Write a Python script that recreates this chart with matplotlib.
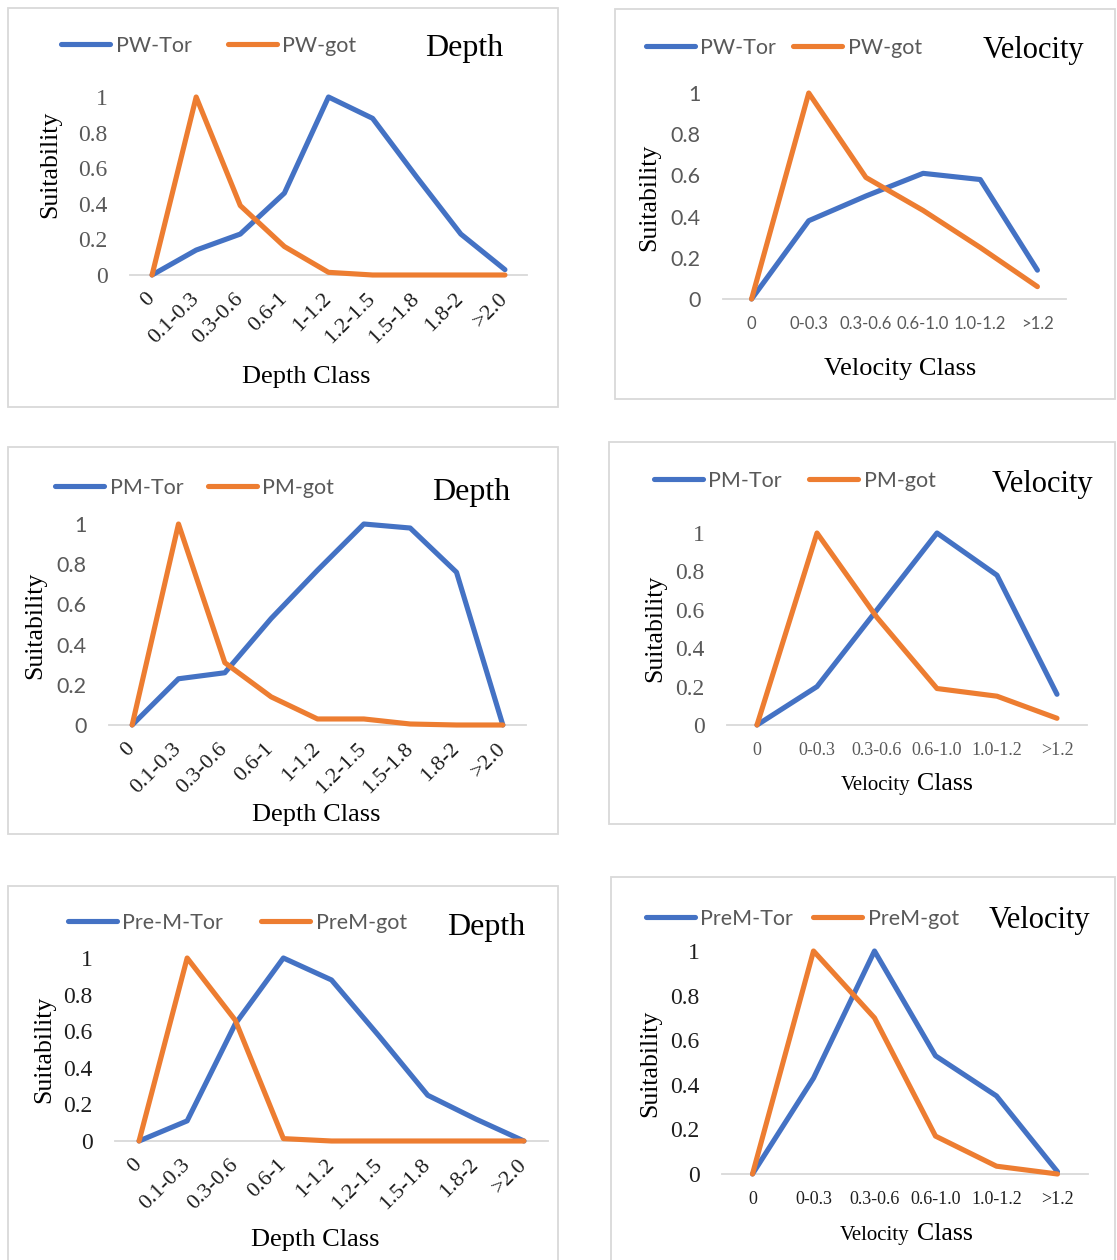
import matplotlib
matplotlib.use("Agg")
import matplotlib.pyplot as plt
from matplotlib.patches import Rectangle
from matplotlib.legend import Legend

# ---- data -------------------------------------------------------------
depth_classes = ['0', '0.1-0.3', '0.3-0.6', '0.6-1', '1-1.2', '1.2-1.5',
                 '1.5-1.8', '1.8-2', '>2.0']
velocity_classes = ['0', '0-0.3', '0.3-0.6', '0.6-1.0', '1.0-1.2', '>1.2']
y_ticks = [0, 0.2, 0.4, 0.6, 0.8, 1]
y_tick_labels = ['0', '0.2', '0.4', '0.6', '0.8', '1']

pw_tor_depth = [0, 0.14, 0.23, 0.46, 1.0, 0.88, 0.55, 0.23, 0.03]
pw_got_depth = [0, 1.0, 0.39, 0.16, 0.015, 0, 0, 0, 0]
pw_tor_vel = [0, 0.38, 0.50, 0.61, 0.58, 0.14]
pw_got_vel = [0, 1.0, 0.59, 0.43, 0.25, 0.06]

pm_tor_depth = [0, 0.23, 0.26, 0.53, 0.77, 1.0, 0.98, 0.76, 0]
pm_got_depth = [0, 1.0, 0.31, 0.14, 0.03, 0.03, 0.005, 0, 0]
pm_tor_vel = [0, 0.20, 0.60, 1.0, 0.78, 0.16]
pm_got_vel = [0, 1.0, 0.56, 0.19, 0.15, 0.035]

prem_tor_depth = [0, 0.11, 0.64, 1.0, 0.88, 0.57, 0.25, 0.12, 0]
prem_got_depth = [0, 1.0, 0.66, 0.013, 0, 0, 0, 0, 0]
prem_tor_vel = [0, 0.43, 1.0, 0.53, 0.35, 0.01]
prem_got_vel = [0, 1.0, 0.70, 0.17, 0.035, 0]

# ---- style ------------------------------------------------------------
W, H = 1117, 1260
SERIF = 'Liberation Serif'
SANS = 'Lato'
BLUE = '#4472C4'
ORANGE = '#ED7D31'
GRAY = '#595959'
DARK = '#1e1e1e'
FRAME = '#d9d9d9'

fig = plt.figure(figsize=(W / 100, H / 100), dpi=100)
fig.patch.set_facecolor('white')


def fx(x):
    return x / W


def fy(y):
    return 1 - y / H


def frame(x0, y0, x1, y1):
    fig.patches.append(Rectangle((fx(x0), fy(y1)), (x1 - x0) / W, (y1 - y0) / H,
                                 transform=fig.transFigure, fill=False,
                                 edgecolor=FRAME, linewidth=1.3))


def panel(box, plot, classes, tor, got, names, title, title_pos, leg_x, leg_y,
          ylab_pos, xlab, ytick_style, xtick_style, rotated):
    frame(*box)
    x0, x1, ytop, ybot = plot
    ax = fig.add_axes([fx(x0), fy(ybot), (x1 - x0) / W, (ybot - ytop) / H])
    ax.patch.set_alpha(0)
    n = len(classes)
    xs = list(range(n))
    kw = dict(lw=3.7, solid_capstyle='round', solid_joinstyle='round',
              clip_on=False, zorder=3)
    l1, = ax.plot(xs, tor, color=BLUE, **kw)
    l2, = ax.plot(xs, got, color=ORANGE, **kw)
    ax.set_xlim(-0.5, n - 0.5)
    ax.set_ylim(0, 1)
    for s in ('top', 'right', 'left'):
        ax.spines[s].set_visible(False)
    ax.spines['bottom'].set_color(FRAME)
    ax.spines['bottom'].set_linewidth(1.3)

    yfam, ycol = ytick_style
    ax.set_yticks(y_ticks, labels=y_tick_labels)
    ysize = 17 if yfam == SERIF else 15.5
    ax.tick_params(axis='y', length=0, pad=16, labelsize=ysize, labelcolor=ycol)
    for t in ax.get_yticklabels():
        t.set_fontfamily(yfam)

    xfam, xcol, xsize = xtick_style
    if rotated:
        ax.set_xticks(xs, labels=classes, rotation=45, ha='right', va='center',
                      rotation_mode='anchor')
        ax.tick_params(axis='x', length=0, pad=15, labelsize=xsize, labelcolor=xcol)
    else:
        ax.set_xticks(xs, labels=classes)
        ax.tick_params(axis='x', length=0, pad=12, labelsize=xsize, labelcolor=xcol)
    for t in ax.get_xticklabels():
        t.set_fontfamily(xfam)

    # legend: one entry per series so each key sits where it belongs
    fs = 15.5
    fs_px = fs * 100 / 72
    for line, name, lx in zip((l1, l2), names, leg_x):
        leg = Legend(ax, [line], [name], loc='center left',
                     bbox_to_anchor=(fx(lx + 2.5), fy(leg_y)),
                     bbox_transform=fig.transFigure, frameon=False,
                     borderpad=0, borderaxespad=0,
                     handlelength=49 / fs_px, handletextpad=6 / fs_px,
                     prop={'family': SANS, 'size': fs}, labelcolor=GRAY)
        ax.add_artist(leg)

    tsize = 23 if title == 'Depth' else 22
    fig.text(fx(title_pos[0]), fy(title_pos[1]), title, family=SERIF,
             size=tsize, ha='left', va='baseline', color='black')
    fig.text(fx(ylab_pos[0]), fy(ylab_pos[1]), 'Suitability', family=SERIF,
             size=18.5, rotation=90, ha='center', va='center', color='black')
    if len(xlab) == 3:
        text, cx, base = xlab
        fig.text(fx(cx), fy(base), text, family=SERIF, size=19,
                 ha='center', va='baseline', color='black')
    else:
        left, right, split_l, split_r, base = xlab
        fig.text(fx(split_l), fy(base), left, family=SERIF, size=15,
                 ha='right', va='baseline', color='black')
        fig.text(fx(split_r), fy(base), right, family=SERIF, size=18.6,
                 ha='left', va='baseline', color='black')
    return ax


# PW – depth
panel((8, 8, 558, 407), (130, 527, 97, 275), depth_classes,
      pw_tor_depth, pw_got_depth, ('PW-Tor', 'PW-got'),
      'Depth', (425, 56), (58, 225), 46, (50, 164),
      ('Depth Class', 306, 383), (SERIF, GRAY), (SERIF, DARK, 16), True)

# PW – velocity
panel((615, 9, 1115, 399), (723, 1066, 93, 299), velocity_classes,
      pw_tor_vel, pw_got_vel, ('PW-Tor', 'PW-got'),
      'Velocity', (983, 58), (643, 790), 48, (649, 197),
      ('Velocity Class', 900, 375), (SANS, GRAY), (SANS, GRAY, 12), False)

# PM – depth
panel((8, 447, 558, 834), (109, 526, 524, 725), depth_classes,
      pm_tor_depth, pm_got_depth, ('PM-Tor', 'PM-got'),
      'Depth', (432, 500), (52, 205), 488, (35, 625),
      ('Depth Class', 316, 821), (SANS, GRAY), (SERIF, DARK, 16), True)

# PM – velocity
panel((609, 442, 1115, 824), (727, 1087, 533, 725), velocity_classes,
      pm_tor_vel, pm_got_vel, ('PM-Tor', 'PM-got'),
      'Velocity', (992, 492), (651, 806), 481, (655, 628),
      ('Velocity', 'Class', 910, 917, 790), (SERIF, GRAY), (SERIF, GRAY, 13), False)

# Pre-M – depth
panel((8, 886, 558, 1266), (115, 548, 958, 1141), depth_classes,
      prem_tor_depth, prem_got_depth, ('Pre-M-Tor', 'PreM-got'),
      'Depth', (447, 935), (65, 258), 923, (44, 1049),
      ('Depth Class', 315, 1246), (SERIF, DARK), (SERIF, DARK, 16), True)

# Pre-M – velocity
panel((611, 877, 1115, 1266), (722, 1088, 951, 1174), velocity_classes,
      prem_tor_vel, prem_got_vel, ('PreM-Tor', 'PreM-got'),
      'Velocity', (989, 928), (643, 810), 919, (650, 1063),
      ('Velocity', 'Class', 909, 917, 1240), (SERIF, DARK), (SERIF, DARK, 13), False)

fig.savefig('out.png', dpi=100)
